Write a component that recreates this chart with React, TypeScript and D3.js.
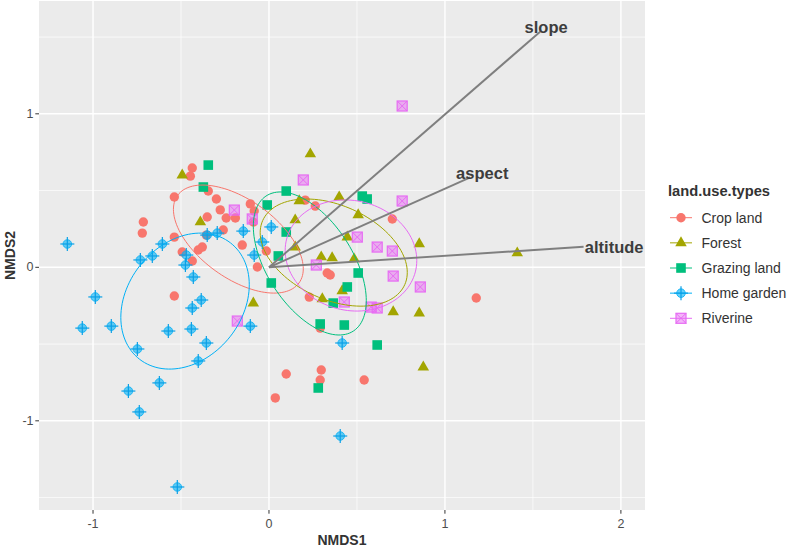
import React from "react";
import * as d3 from "d3";

const W = 789, H = 549;
const groups = ["Crop land", "Forest", "Grazing land", "Home garden", "Riverine"];
const colors = ["#F8766D", "#A3A500", "#00BF7D", "#00B0F6", "#E76BF3"];

const xTicks = [-1, 0, 1, 2];
const yTicks = [-1, 0, 1];
const xMinor = [-0.5, 0.5, 1.5];
const yMinor = [-1.5, -0.5, 0.5, 1.5];

const cropLand: [number, number][] = [
  [-0.436, 0.647], [-0.447, 0.594], [-0.538, 0.458], [-0.345, 0.497], [-0.299, 0.445],
  [-0.277, 0.374], [-0.243, 0.321], [-0.191, 0.321], [-0.351, 0.328], [-0.106, 0.413],
  [-0.084, 0.367], [-0.089, 0.295], [-0.26, 0.243], [-0.714, 0.295], [-0.72, 0.223],
  [-0.538, 0.197], [-0.356, 0.21], [-0.493, 0.1], [-0.402, 0.113], [-0.379, 0.132],
  [-0.436, 0.041], [-0.152, 0.145], [-0.015, 0.106], [-0.066, 0.002], [0.206, 0.438],
  [0.263, 0.399], [0.701, 0.315], [0.331, -0.037], [0.348, -0.05], [0.229, -0.194],
  [0.291, -0.396], [0.098, -0.695], [0.297, -0.669], [0.291, -0.734], [0.036, -0.851],
  [0.541, -0.734], [1.178, -0.2], [-0.538, -0.187],
];
const forest: [number, number][] = [
  [-0.493, 0.601], [-0.39, 0.295], [0.235, 0.738], [0.172, 0.432], [0.399, 0.458],
  [0.507, 0.341], [0.149, 0.308], [0.445, 0.197], [0.854, 0.152], [0.149, 0.132],
  [0.297, 0.067], [0.359, 0.061], [0.484, 0.054], [-0.089, -0.233], [0.303, -0.206],
  [0.416, -0.154], [0.706, -0.291], [0.854, -0.298], [0.877, -0.65], [1.411, 0.093],
];
const grazingLand: [number, number][] = [
  [-0.345, 0.666], [-0.373, 0.523], [0.098, 0.497], [-0.01, 0.406], [0.53, 0.464],
  [0.558, 0.445], [0.098, 0.23], [0.053, 0.074], [0.013, -0.102], [0.507, -0.037],
  [0.445, -0.128], [0.365, -0.233], [0.291, -0.369], [0.428, -0.376], [0.615, -0.506],
  [0.28, -0.786],
];
const homeGarden: [number, number][] = [
  [-1.146, 0.152], [-0.731, 0.048], [-0.663, 0.074], [-0.606, 0.152], [-0.47, 0.08],
  [-0.475, 0.015], [-0.351, 0.21], [-0.294, 0.223], [-0.146, 0.236], [0.013, 0.263],
  [-0.038, 0.165], [-0.084, 0.08], [-0.43, -0.063], [-0.987, -0.193], [-0.385, -0.213],
  [-0.436, -0.265], [-1.061, -0.396], [-0.896, -0.383], [-0.572, -0.415], [-0.441, -0.402],
  [-0.106, -0.383], [-0.356, -0.493], [-0.748, -0.532], [-0.402, -0.61], [-0.623, -0.753],
  [-0.799, -0.806], [-0.737, -0.942], [-0.521, -1.431], [0.416, -0.493], [0.405, -1.099],
];
const riverine: [number, number][] = [
  [-0.197, 0.373], [-0.095, 0.315], [0.195, 0.569], [0.269, 0.015], [0.757, 0.432],
  [0.502, 0.197], [0.615, 0.132], [0.701, 0.106], [0.706, -0.057], [0.86, -0.128],
  [0.428, -0.226], [0.581, -0.259], [0.615, -0.265], [-0.18, -0.35], [0.757, 1.051],
];
const seriesData = [cropLand, forest, grazingLand, homeGarden, riverine];

// ellipse: [cx, cy, sx, sy, r]
const ellipses: [number, number, number, number, number][] = [
  [-0.174, 0.184, 0.369, 0.352, -0.55],
  [0.368, 0.096, 0.418, 0.349, -0.37],
  [0.232, 0.025, 0.321, 0.466, -0.52],
  [-0.477, -0.22, 0.365, 0.443, 0.24],
  [0.466, 0.077, 0.374, 0.362, -0.09],
];

const vectorNames = ["slope", "aspect", "altitude"];
const vectorEnds: [number, number][] = [[1.541, 1.535], [1.144, 0.586], [1.788, 0.134]];
const vectorLabels: [number, number][] = [[1.575, 1.565], [1.212, 0.614], [1.962, 0.132]];

const left = 39, right = 645, top = 1, bottom = 510;
const x = d3.scaleLinear().domain([-1.307, 2.137]).range([left, right]);
const y = d3.scaleLinear().domain([-1.581, 1.735]).range([bottom, top]);

function Marker({ g, cx, cy }: { g: number; cx: number; cy: number }) {
  const c = colors[g];
  if (g === 0) return <circle cx={cx} cy={cy} r={4.7} fill={c} />;
  if (g === 1) {
    const s = 11.5, h = (s * Math.sqrt(3)) / 2;
    const pts = `${cx - s / 2},${cy + h / 3} ${cx + s / 2},${cy + h / 3} ${cx},${cy - (2 * h) / 3}`;
    return <polygon points={pts} fill={c} />;
  }
  if (g === 2) return <rect x={cx - 4.8} y={cy - 4.8} width={9.6} height={9.6} fill={c} />;
  if (g === 3)
    return (
      <g>
        <circle cx={cx} cy={cy} r={4.3} fill={c} fillOpacity={0.6} stroke={c} strokeWidth={0.8} />
        <line x1={cx - 7} x2={cx + 7} y1={cy} y2={cy} stroke="#0aa0e6" strokeWidth={1.2} />
        <line x1={cx} x2={cx} y1={cy - 7} y2={cy + 7} stroke="#0aa0e6" strokeWidth={1.2} />
      </g>
    );
  const s = 5;
  return (
    <g>
      <rect x={cx - s} y={cy - s} width={2 * s} height={2 * s} fill={c} fillOpacity={0.5} stroke={c} strokeWidth={1.2} />
      <line x1={cx - s} y1={cy - s} x2={cx + s} y2={cy + s} stroke={c} strokeWidth={1} />
      <line x1={cx - s} y1={cy + s} x2={cx + s} y2={cy - s} stroke={c} strokeWidth={1} />
    </g>
  );
}

function ellipsePath(e: [number, number, number, number, number]) {
  const [cx, cy, sx, sy, r] = e;
  const pts: [number, number][] = d3.range(0, 361, 3).map((deg) => {
    const t = (deg * Math.PI) / 180;
    return [x(cx + sx * Math.cos(t)), y(cy + sy * (r * Math.cos(t) + Math.sqrt(1 - r * r) * Math.sin(t)))];
  });
  return d3.line()(pts) + "Z";
}

export default function App() {
  const font = "'Liberation Sans', Arial, sans-serif";
  return (
    <svg width={W} height={H} style={{ position: "absolute", left: 0, top: 0, background: "#fff" }} fontFamily={font}>
      <defs>
        <clipPath id="panel">
          <rect x={left} y={top} width={right - left} height={bottom - top} />
        </clipPath>
      </defs>
      <rect x={left} y={top} width={right - left} height={bottom - top} fill="#EBEBEB" />
      {xMinor.map((v) => (
        <line key={"xm" + v} x1={x(v)} x2={x(v)} y1={top} y2={bottom} stroke="#fff" strokeWidth={0.7} />
      ))}
      {yMinor.map((v) => (
        <line key={"ym" + v} y1={y(v)} y2={y(v)} x1={left} x2={right} stroke="#fff" strokeWidth={0.7} />
      ))}
      {xTicks.map((v) => (
        <line key={"xg" + v} x1={x(v)} x2={x(v)} y1={top} y2={bottom} stroke="#fff" strokeWidth={1.4} />
      ))}
      {yTicks.map((v) => (
        <line key={"yg" + v} y1={y(v)} y2={y(v)} x1={left} x2={right} stroke="#fff" strokeWidth={1.4} />
      ))}
      <g clipPath="url(#panel)">
        {seriesData.map((pts, g) =>
          pts.map((p, i) => <Marker key={g + "-" + i} g={g} cx={x(p[0])} cy={y(p[1])} />)
        )}
        {ellipses.map((e, g) => (
          <path key={"e" + g} d={ellipsePath(e)} fill="none" stroke={colors[g]} strokeWidth={1} />
        ))}
        {vectorEnds.map((v, i) => (
          <line key={"v" + i} x1={x(0)} y1={y(0)} x2={x(v[0])} y2={y(v[1])} stroke="#7f7f7f" strokeWidth={1.9} />
        ))}
        {vectorLabels.map((v, i) => (
          <text key={"vl" + i} x={x(v[0])} y={y(v[1])} textAnchor="middle" dominantBaseline="central"
            fontSize={16.5} fontWeight="bold" fill="#3d3d3d">{vectorNames[i]}</text>
        ))}
      </g>
      {/* axes */}
      {xTicks.map((v) => (
        <g key={"xt" + v}>
          <line x1={x(v)} x2={x(v)} y1={bottom} y2={bottom + 3.7} stroke="#333" strokeWidth={1} />
          <text x={x(v)} y={bottom + 14} textAnchor="middle" dominantBaseline="central" fontSize={12.5} fill="#4D4D4D">
            {v < 0 ? "-" + Math.abs(v) : v}
          </text>
        </g>
      ))}
      {yTicks.map((v) => (
        <g key={"yt" + v}>
          <line x1={left - 3.7} x2={left} y1={y(v)} y2={y(v)} stroke="#333" strokeWidth={1} />
          <text x={left - 5.5} y={y(v)} textAnchor="end" dominantBaseline="central" fontSize={12.5} fill="#4D4D4D">
            {v < 0 ? "-" + Math.abs(v) : v}
          </text>
        </g>
      ))}
      <text x={(left + right) / 2} y={540} textAnchor="middle" dominantBaseline="central" fontSize={14} fontWeight="bold" fill="#333">NMDS1</text>
      <text transform={`translate(10,${(top + bottom) / 2}) rotate(-90)`} textAnchor="middle" dominantBaseline="central" fontSize={14} fontWeight="bold" fill="#333">NMDS2</text>
      {/* legend */}
      <text x={668} y={191} dominantBaseline="central" fontSize={14.7} fontWeight="bold" fill="#333">land.use.types</text>
      {groups.map((gname, g) => {
        const cy = 217.7 + g * 25.15;
        return (
          <g key={"lg" + g}>
            <line x1={670} x2={692} y1={cy} y2={cy} stroke={colors[g]} strokeWidth={1} />
            <Marker g={g} cx={681} cy={cy} />
            <text x={701.5} y={cy} dominantBaseline="central" fontSize={14} fill="#333">{gname}</text>
          </g>
        );
      })}
    </svg>
  );
}
